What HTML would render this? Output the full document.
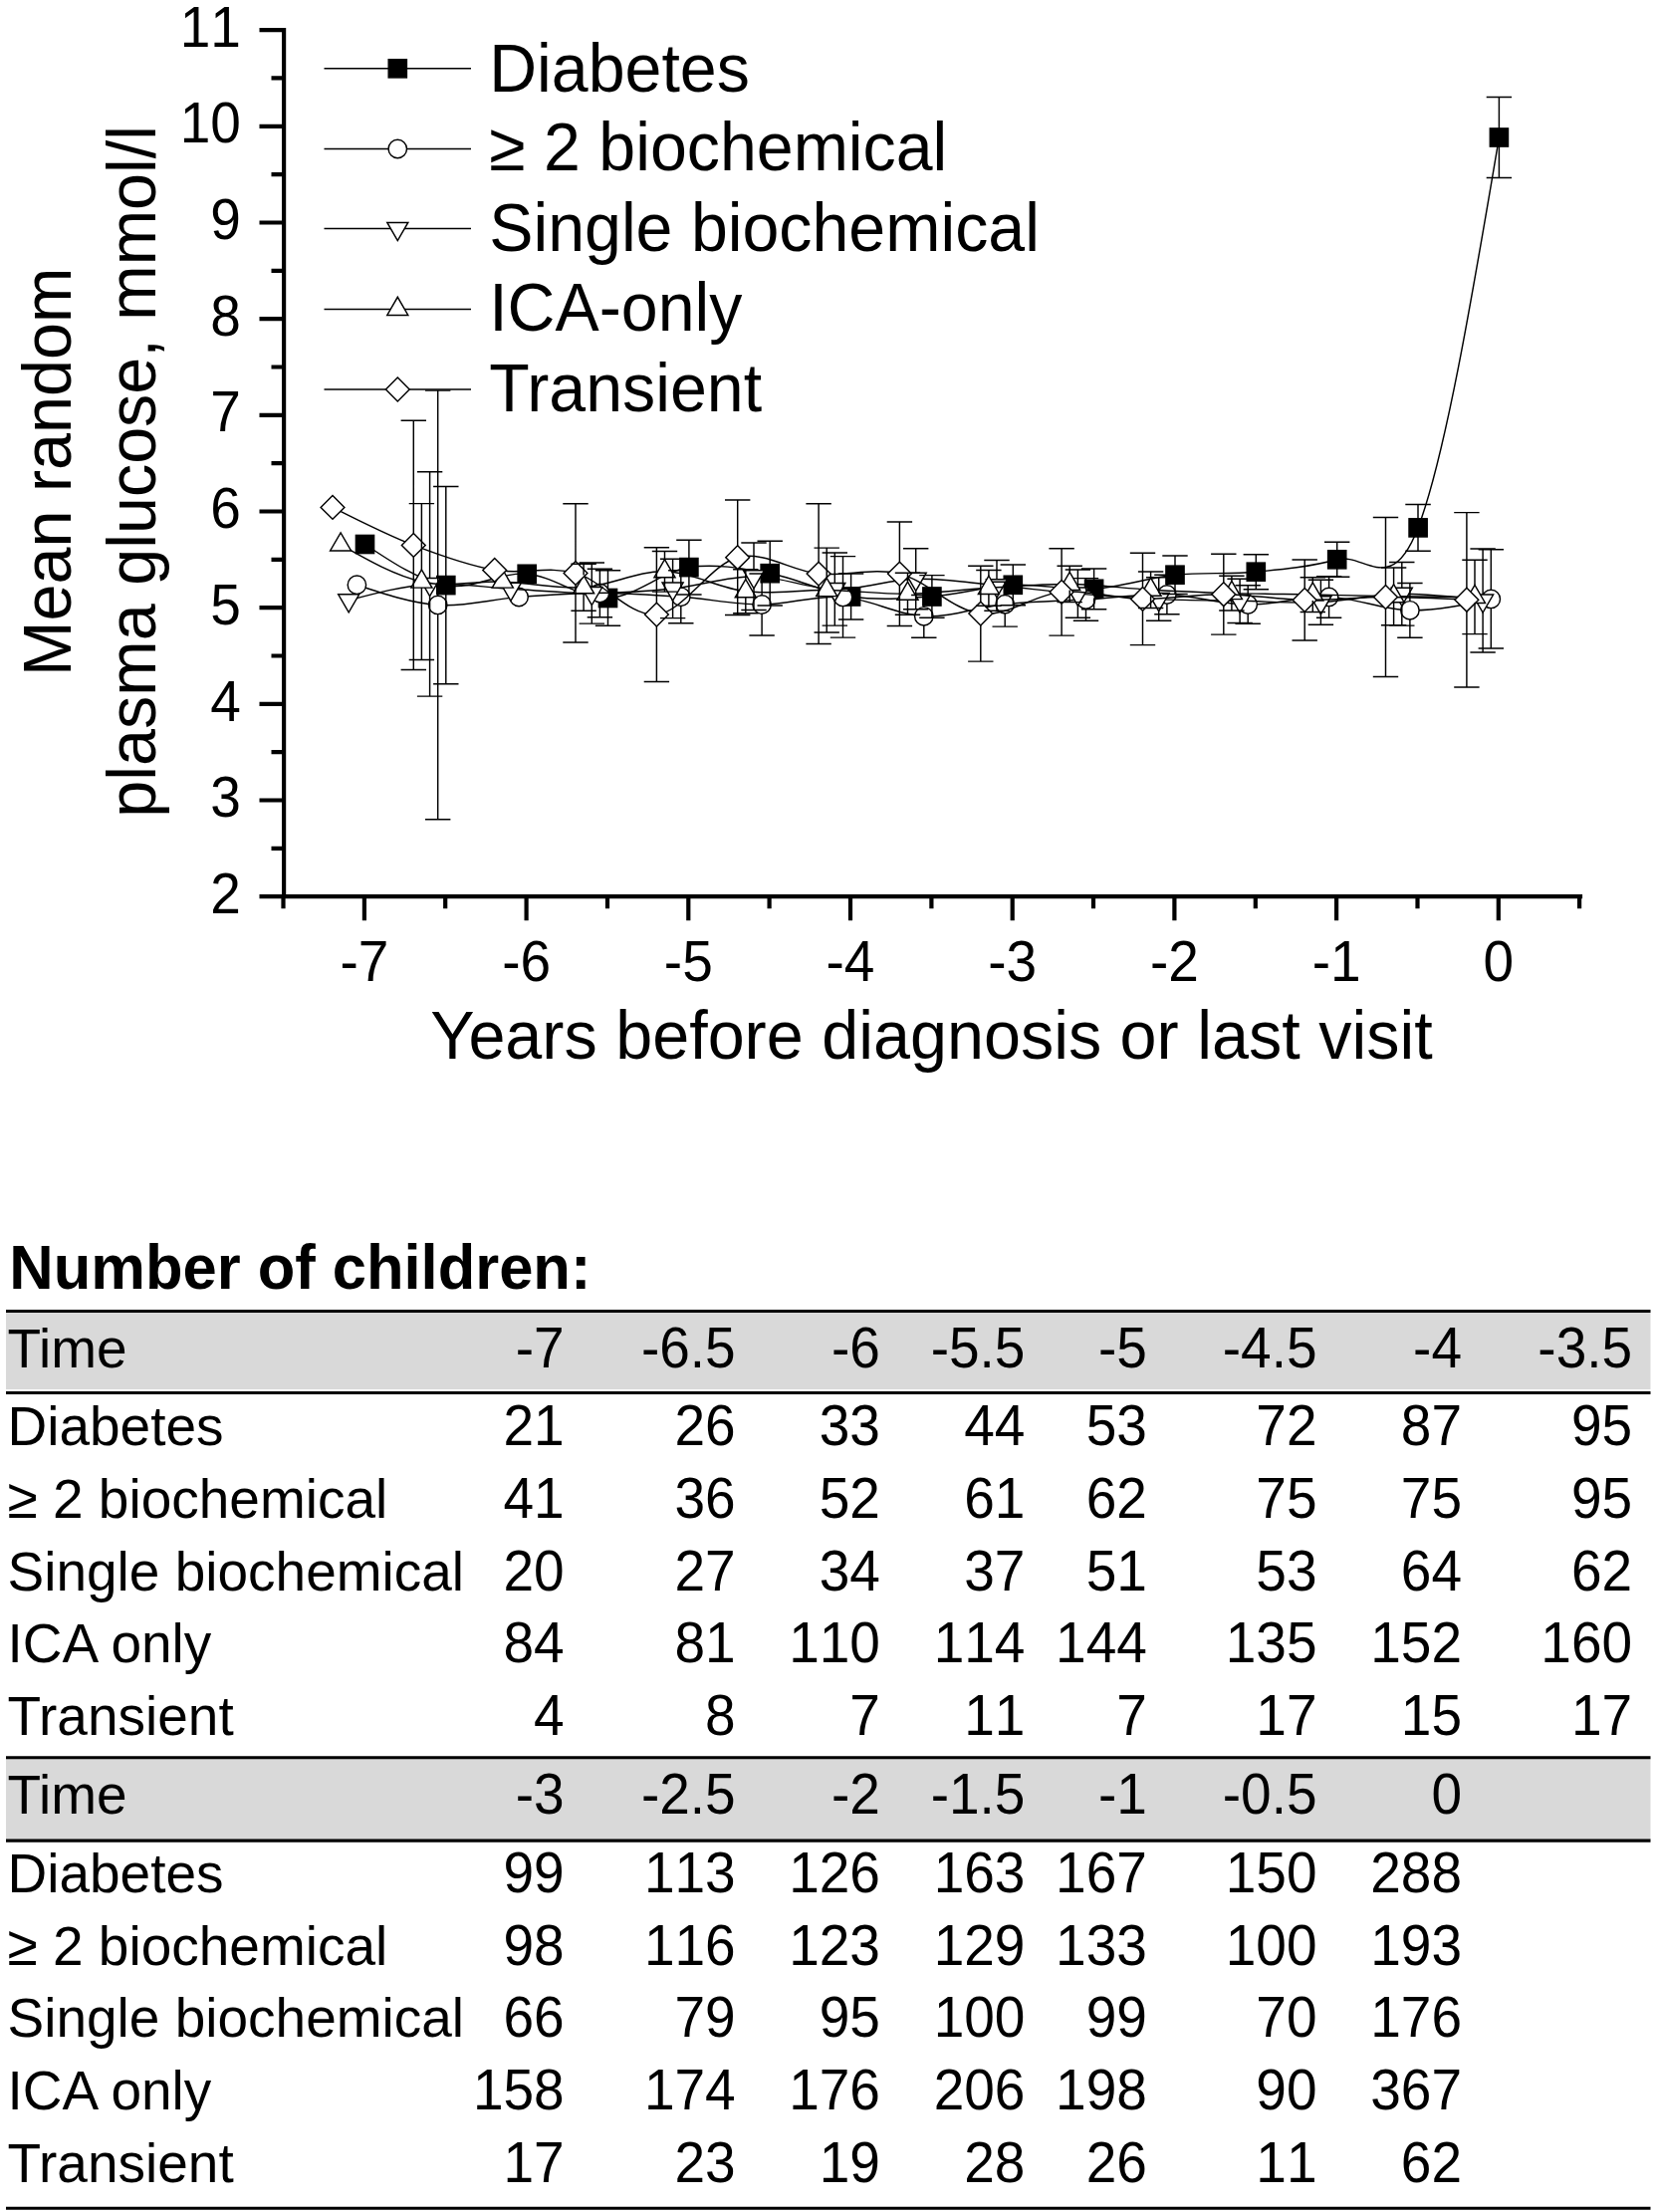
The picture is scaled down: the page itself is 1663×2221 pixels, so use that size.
<!DOCTYPE html>
<html lang="en"><head><meta charset="utf-8"><title>Mean random plasma glucose before diagnosis</title>
<style>
html,body{margin:0;padding:0;background:#fff}
body{width:1663px;height:2221px;overflow:hidden}
svg{display:block}
text{font-family:"Liberation Sans",Arial,Helvetica,sans-serif;fill:#000}
.ax{stroke:#000;stroke-width:4.2;fill:none;stroke-linecap:butt}
.ln{stroke:#000;stroke-width:1.45;fill:none;stroke-linejoin:round}
.mk{stroke:#000;stroke-width:1.45;fill:#fff;stroke-linejoin:miter}
.t50{font-size:55px}.t54{font-size:55px}.t66{font-size:66.3px}.t67{font-size:66.5px}
.r{text-anchor:end}.m{text-anchor:middle}.nk{font-kerning:none}
</style></head><body>
<svg width="1663" height="2221" viewBox="0 0 1663 2221">
<rect width="1663" height="2221" fill="#fff"/>
<g id="series-D">
<path class="ln" d="M366.5,546.5C393.6,564.6 420.7,582.6 447.8,587.6C475,592.6 502.1,574.2 529.2,576.3C556.3,578.5 583.4,601.6 610.5,600.5C637.7,599.4 664.8,573.7 691.9,569.6C719,565.5 746.1,570.8 773.2,575.7C800.4,580.6 827.5,595.1 854.6,599C881.7,602.9 908.8,600.9 935.9,599C963.1,597 990.2,588.6 1017.3,587.3C1044.4,586 1071.5,593 1098.6,591.3C1125.8,589.6 1152.9,580 1180,577.2C1207.1,574.4 1234.2,576.8 1261.3,574.2C1288.5,571.7 1315.6,569.2 1342.7,561.8C1369.8,554.4 1396.9,600.6 1424,529.9C1451.2,459.3 1478.3,298.6 1505.4,138"/>
<g class="mk"><rect x="357.4" y="537.4" width="18.2" height="18.2" fill="#000"/><rect x="438.7" y="578.5" width="18.2" height="18.2" fill="#000"/><rect x="520.1" y="567.2" width="18.2" height="18.2" fill="#000"/><rect x="601.4" y="591.4" width="18.2" height="18.2" fill="#000"/><rect x="682.8" y="560.5" width="18.2" height="18.2" fill="#000"/><rect x="764.1" y="566.6" width="18.2" height="18.2" fill="#000"/><rect x="845.5" y="589.9" width="18.2" height="18.2" fill="#000"/><rect x="926.8" y="589.9" width="18.2" height="18.2" fill="#000"/><rect x="1008.2" y="578.2" width="18.2" height="18.2" fill="#000"/><rect x="1089.5" y="582.2" width="18.2" height="18.2" fill="#000"/><rect x="1170.9" y="568.1" width="18.2" height="18.2" fill="#000"/><rect x="1252.2" y="565.1" width="18.2" height="18.2" fill="#000"/><rect x="1333.6" y="552.7" width="18.2" height="18.2" fill="#000"/><rect x="1415" y="520.8" width="18.2" height="18.2" fill="#000"/><rect x="1496.3" y="128.9" width="18.2" height="18.2" fill="#000"/></g>
</g>
<g id="series-C">
<path class="ln" d="M358.4,587.2C385.5,596.3 412.6,605.4 439.7,607.4C466.8,609.5 493.9,601.4 521.1,599.5C548.2,597.5 575.3,595.5 602.4,595.5C629.5,595.5 656.6,597.3 683.8,599.3C710.9,601.2 738,606.9 765.1,607C792.2,607 819.3,597.4 846.5,599.4C873.6,601.3 900.7,617.6 927.8,618.8C954.9,620 982,609.5 1009.2,606.7C1036.3,603.9 1063.4,603.6 1090.5,602C1117.6,600.4 1144.7,596.2 1171.9,597C1199,597.9 1226.1,606.7 1253.2,607.1C1280.3,607.4 1307.4,598.4 1334.6,599.4C1361.7,600.3 1388.8,612.5 1415.9,612.8C1443,613.2 1470.1,607.3 1497.3,601.4"/>
<g class="mk"><circle cx="358.4" cy="587.2" r="9.2"/><circle cx="439.7" cy="607.4" r="9.2"/><circle cx="521.1" cy="599.5" r="9.2"/><circle cx="602.4" cy="595.5" r="9.2"/><circle cx="683.8" cy="599.3" r="9.2"/><circle cx="765.1" cy="607" r="9.2"/><circle cx="846.5" cy="599.4" r="9.2"/><circle cx="927.8" cy="618.8" r="9.2"/><circle cx="1009.2" cy="606.7" r="9.2"/><circle cx="1090.5" cy="602" r="9.2"/><circle cx="1171.9" cy="597" r="9.2"/><circle cx="1253.2" cy="607.1" r="9.2"/><circle cx="1334.6" cy="599.4" r="9.2"/><circle cx="1415.9" cy="612.8" r="9.2"/><circle cx="1497.3" cy="601.4" r="9.2"/></g>
</g>
<g id="series-V">
<path class="ln" d="M350.2,602.8C377.3,595.6 404.5,588.4 431.6,586.5C458.7,584.5 485.8,589.8 512.9,591.3C540,592.8 567.2,595.6 594.3,595.5C621.4,595.5 648.5,593.8 675.6,591C702.7,588.2 729.9,578.7 757,578.7C784.1,578.8 811.2,591.1 838.3,591.6C865.4,592 892.6,581.9 919.7,581.3C946.8,580.6 973.9,585.3 1001,587.8C1028.1,590.3 1055.3,593.8 1082.4,596.1C1109.5,598.4 1136.6,600.4 1163.7,601.6C1190.8,602.8 1218,602.8 1245.1,603.3C1272.2,603.8 1299.3,605.9 1326.4,604.7C1353.5,603.6 1380.7,596.6 1407.8,596.3C1434.9,596 1462,599.5 1489.1,603"/>
<g class="mk"><polygon points="339.7,596.8 360.7,596.8 350.2,614.9"/><polygon points="421.1,580.4 442.1,580.4 431.6,598.6"/><polygon points="502.4,585.2 523.4,585.2 512.9,603.4"/><polygon points="583.8,589.5 604.8,589.5 594.3,607.6"/><polygon points="665.1,584.9 686.1,584.9 675.6,603.1"/><polygon points="746.5,572.7 767.5,572.7 757,590.8"/><polygon points="827.8,585.5 848.8,585.5 838.3,603.7"/><polygon points="909.2,575.2 930.2,575.2 919.7,593.4"/><polygon points="990.5,581.7 1011.5,581.7 1001,599.9"/><polygon points="1071.9,590 1092.9,590 1082.4,608.2"/><polygon points="1153.2,595.5 1174.2,595.5 1163.7,613.7"/><polygon points="1234.6,597.3 1255.6,597.3 1245.1,615.4"/><polygon points="1315.9,598.7 1336.9,598.7 1326.4,616.8"/><polygon points="1397.3,590.2 1418.3,590.2 1407.8,608.4"/><polygon points="1478.6,597 1499.6,597 1489.1,615.1"/></g>
</g>
<g id="series-A">
<path class="ln" d="M342.1,547C369.2,562.4 396.3,577.9 423.4,584C450.6,590.2 477.7,583.1 504.8,584C531.9,585 559,591.4 586.1,589.7C613.3,588 640.4,573.1 667.5,573.7C694.6,574.4 721.7,590.6 748.8,593.8C776,596.9 803.1,592.1 830.2,592.5C857.3,592.9 884.4,596.6 911.5,596.3C938.7,595.9 965.8,591.9 992.9,590.3C1020,588.7 1047.1,586.1 1074.2,586.5C1101.4,586.8 1128.5,590.7 1155.6,592.2C1182.7,593.8 1209.8,594.8 1236.9,595.6C1264.1,596.4 1291.2,596.5 1318.3,597C1345.4,597.6 1372.5,598.4 1399.6,598.8C1426.8,599.2 1453.9,599.3 1481,599.5"/>
<g class="mk"><polygon points="331.6,553 352.6,553 342.1,534.9"/><polygon points="412.9,590.1 433.9,590.1 423.4,571.9"/><polygon points="494.3,590.1 515.3,590.1 504.8,571.9"/><polygon points="575.6,595.8 596.6,595.8 586.1,577.6"/><polygon points="657,579.8 678,579.8 667.5,561.6"/><polygon points="738.3,599.8 759.3,599.8 748.8,581.7"/><polygon points="819.7,598.6 840.7,598.6 830.2,580.4"/><polygon points="901,602.3 922,602.3 911.5,584.2"/><polygon points="982.4,596.4 1003.4,596.4 992.9,578.2"/><polygon points="1063.7,592.5 1084.7,592.5 1074.2,574.4"/><polygon points="1145.1,598.3 1166.1,598.3 1155.6,580.1"/><polygon points="1226.4,601.6 1247.4,601.6 1236.9,583.5"/><polygon points="1307.8,603.1 1328.8,603.1 1318.3,584.9"/><polygon points="1389.1,604.8 1410.1,604.8 1399.6,586.7"/><polygon points="1470.5,605.5 1491.5,605.5 1481,587.4"/></g>
</g>
<g id="series-T">
<path class="ln" d="M334,509.4C361.1,523.1 388.2,536.9 415.3,547.4C442.4,557.8 469.5,567.7 496.7,572.4C523.8,577.1 550.9,567.9 578,575.4C605.1,582.8 632.2,619.7 659.4,617.1C686.5,614.5 713.6,566.5 740.7,559.7C767.8,552.9 794.9,573.4 822.1,576.1C849.2,578.9 876.3,569.5 903.4,576.1C930.5,582.8 957.6,613.1 984.8,616.1C1011.9,619.2 1039,596.9 1066.1,594.4C1093.2,592 1120.3,601 1147.5,601.4C1174.6,601.7 1201.7,596.5 1228.8,596.7C1255.9,596.8 1283,602 1310.2,602.4C1337.3,602.9 1364.4,599.5 1391.5,599.5C1418.6,599.4 1445.7,600.8 1472.9,602.2"/>
<g class="mk"><polygon points="322.1,509.4 334,497.5 345.9,509.4 334,521.3"/><polygon points="403.4,547.4 415.3,535.5 427.2,547.4 415.3,559.3"/><polygon points="484.8,572.4 496.7,560.5 508.6,572.4 496.7,584.3"/><polygon points="566.1,575.4 578,563.5 589.9,575.4 578,587.3"/><polygon points="647.5,617.1 659.4,605.2 671.3,617.1 659.4,629"/><polygon points="728.8,559.7 740.7,547.8 752.6,559.7 740.7,571.6"/><polygon points="810.2,576.1 822.1,564.2 834,576.1 822.1,588"/><polygon points="891.5,576.1 903.4,564.2 915.3,576.1 903.4,588"/><polygon points="972.9,616.1 984.8,604.2 996.7,616.1 984.8,628"/><polygon points="1054.2,594.4 1066.1,582.5 1078,594.4 1066.1,606.3"/><polygon points="1135.6,601.4 1147.5,589.5 1159.4,601.4 1147.5,613.3"/><polygon points="1216.9,596.7 1228.8,584.8 1240.7,596.7 1228.8,608.6"/><polygon points="1298.3,602.4 1310.2,590.5 1322.1,602.4 1310.2,614.3"/><polygon points="1379.6,599.5 1391.5,587.6 1403.4,599.5 1391.5,611.4"/><polygon points="1461,602.2 1472.9,590.3 1484.8,602.2 1472.9,614.1"/></g>
</g>
<path class="ln" d="M447.8,578.5V488.4M435.1,488.4H460.5M447.8,596.7V686.8M435.1,686.8H460.5M610.5,591.4V572.7M597.8,572.7H623.2M610.5,609.6V628.3M597.8,628.3H623.2M691.9,560.5V542.2M679.2,542.2H704.6M691.9,578.7V596.9M679.2,596.9H704.6M773.2,566.6V543.3M760.5,543.3H785.9M773.2,584.8V608M760.5,608H785.9M854.6,589.9V576M841.9,576H867.3M854.6,608.1V622M841.9,622H867.3M935.9,589.9V577.6M923.2,577.6H948.6M935.9,608.1V620.3M923.2,620.3H948.6M1017.3,578.2V566.9M1004.6,566.9H1030M1017.3,596.4V607.7M1004.6,607.7H1030M1098.6,582.2V570.9M1085.9,570.9H1111.3M1098.6,600.4V611.7M1085.9,611.7H1111.3M1180,568.1V557.9M1167.3,557.9H1192.7M1180,586.3V596.5M1167.3,596.5H1192.7M1261.3,565.1V556.7M1248.6,556.7H1274M1261.3,583.3V591.7M1248.6,591.7H1274M1342.7,552.7V544.3M1330,544.3H1355.4M1342.7,570.9V579.3M1330,579.3H1355.4M1424,520.8V506.5M1411.3,506.5H1436.8M1424,539V553.3M1411.3,553.3H1436.8M1505.4,128.9V97.5M1492.7,97.5H1518.1M1505.4,147.1V178.4M1492.7,178.4H1518.1M439.7,598.2V392.1M427,392.1H452.4M439.7,616.6V822.8M427,822.8H452.4M602.4,586.3V571.3M589.7,571.3H615.1M602.4,604.7V619.7M589.7,619.7H615.1M683.8,590.1V572.8M671.1,572.8H696.5M683.8,608.5V625.7M671.1,625.7H696.5M765.1,597.8V576M752.4,576H777.8M765.1,616.2V638M752.4,638H777.8M846.5,590.2V558.6M833.8,558.6H859.2M846.5,608.6V640.1M833.8,640.1H859.2M927.8,609.6V597.4M915.1,597.4H940.5M927.8,628V640.2M915.1,640.2H940.5M1009.2,597.5V584.2M996.5,584.2H1021.9M1009.2,615.9V629.1M996.5,629.1H1021.9M1090.5,592.8V580.6M1077.8,580.6H1103.2M1090.5,611.2V623.3M1077.8,623.3H1103.2M1171.9,587.8V577.3M1159.2,577.3H1184.6M1171.9,606.2V616.8M1159.2,616.8H1184.6M1253.2,597.9V587.8M1240.5,587.8H1265.9M1253.2,616.3V626.3M1240.5,626.3H1265.9M1334.6,590.2V578.6M1321.9,578.6H1347.3M1334.6,608.6V620.2M1321.9,620.2H1347.3M1415.9,603.6V585.5M1403.2,585.5H1428.6M1415.9,622V640.2M1403.2,640.2H1428.6M1497.3,592.2V551.8M1484.6,551.8H1510M1497.3,610.6V651M1484.6,651H1510M431.6,580.4V473.8M418.9,473.8H444.3M431.6,598.6V699.1M418.9,699.1H444.3M594.3,589.5V564.9M581.6,564.9H607M594.3,607.6V626.1M581.6,626.1H607M675.6,584.9V561.3M662.9,561.3H688.3M675.6,603.1V620.6M662.9,620.6H688.3M757,572.7V545M744.3,545H769.7M757,590.8V612.5M744.3,612.5H769.7M838.3,585.5V555M825.6,555H851M838.3,603.7V628.1M825.6,628.1H851M919.7,575.2V550.8M907,550.8H932.4M919.7,593.4V611.7M907,611.7H932.4M1001,581.7V562.4M988.3,562.4H1013.7M1001,599.9V613.2M988.3,613.2H1013.7M1082.4,590V572M1069.7,572H1095.1M1082.4,608.2V620.2M1069.7,620.2H1095.1M1163.7,595.5V579.8M1151,579.8H1176.4M1163.7,613.7V623.3M1151,623.3H1176.4M1245.1,597.3V581.2M1232.4,581.2H1257.8M1245.1,615.4V625.5M1232.4,625.5H1257.8M1326.4,598.7V582.2M1313.7,582.2H1339.1M1326.4,616.8V627.3M1313.7,627.3H1339.1M1407.8,590.2V564.5M1395.1,564.5H1420.5M1407.8,608.4V628.1M1395.1,628.1H1420.5M1489.1,597V551M1476.4,551H1501.8M1489.1,615.1V655M1476.4,655H1501.8M423.4,571.9V505.6M410.7,505.6H436.1M423.4,590.1V662.5M410.7,662.5H436.1M586.1,577.6V566.2M573.4,566.2H598.8M586.1,595.8V613.2M573.4,613.2H598.8M667.5,561.6V553.4M654.8,553.4H680.2M667.5,579.8V594.1M654.8,594.1H680.2M748.8,581.7V571.8M736.1,571.8H761.5M748.8,599.8V615.7M736.1,615.7H761.5M830.2,580.4V550.1M817.5,550.1H842.9M830.2,598.6V634.9M817.5,634.9H842.9M911.5,584.2V575.3M898.8,575.3H924.2M911.5,602.3V617.3M898.8,617.3H924.2M992.9,578.2V572.4M980.2,572.4H1005.6M992.9,596.4V608.2M980.2,608.2H1005.6M1074.2,574.4V568.3M1061.5,568.3H1086.9M1074.2,592.5V604.6M1061.5,604.6H1086.9M1155.6,580.1V573.9M1142.9,573.9H1168.3M1155.6,598.3V610.5M1142.9,610.5H1168.3M1236.9,583.5V578.3M1224.2,578.3H1249.6M1236.9,601.6V612.9M1224.2,612.9H1249.6M1318.3,584.9V579.7M1305.6,579.7H1331M1318.3,603.1V614.4M1305.6,614.4H1331M1399.6,586.7V569.9M1386.9,569.9H1412.3M1399.6,604.8V627.7M1386.9,627.7H1412.3M1481,587.4V562.3M1468.3,562.3H1493.7M1481,605.5V636.6M1468.3,636.6H1493.7M415.3,535.5V422.2M402.6,422.2H428M415.3,559.3V672.5M402.6,672.5H428M578,563.5V505.8M565.3,505.8H590.7M578,587.3V644.9M565.3,644.9H590.7M659.4,605.2V549.7M646.7,549.7H672.1M659.4,629V684.5M646.7,684.5H672.1M740.7,547.8V501.9M728,501.9H753.4M740.7,571.6V617.5M728,617.5H753.4M822.1,564.2V505.8M809.4,505.8H834.8M822.1,588V646.4M809.4,646.4H834.8M903.4,564.2V523.9M890.7,523.9H916.1M903.4,588V628.4M890.7,628.4H916.1M984.8,604.2V568.2M972.1,568.2H997.5M984.8,628V664.1M972.1,664.1H997.5M1066.1,582.5V550.8M1053.4,550.8H1078.8M1066.1,606.3V638.1M1053.4,638.1H1078.8M1147.5,589.5V555.2M1134.8,555.2H1160.2M1147.5,613.3V647.6M1134.8,647.6H1160.2M1228.8,584.8V556.2M1216.1,556.2H1241.5M1228.8,608.6V637.1M1216.1,637.1H1241.5M1310.2,590.5V562M1297.5,562H1322.9M1310.2,614.3V642.9M1297.5,642.9H1322.9M1391.5,587.6V519.5M1378.8,519.5H1404.2M1391.5,611.4V679.4M1378.8,679.4H1404.2M1472.9,590.3V514.6M1460.2,514.6H1485.6M1472.9,614.1V689.9M1460.2,689.9H1485.6"/>
<path class="ax" d="M285.1,28V902.3M260.5,900.2H1589.1M260.5,30.1H285.1M272.5,78.4H285.1M260.5,126.8H285.1M272.5,175.1H285.1M260.5,223.5H285.1M272.5,271.8H285.1M260.5,320.1H285.1M272.5,368.5H285.1M260.5,416.8H285.1M272.5,465.2H285.1M260.5,513.5H285.1M272.5,561.8H285.1M260.5,610.2H285.1M272.5,658.5H285.1M260.5,706.9H285.1M272.5,755.2H285.1M260.5,803.5H285.1M272.5,851.9H285.1M260.5,900.2H285.1M284.5,900.2V912.2M365.9,900.2V924.2M447.2,900.2V912.2M528.6,900.2V924.2M610,900.2V912.2M691.3,900.2V924.2M772.6,900.2V912.2M854,900.2V924.2M935.4,900.2V912.2M1016.7,900.2V924.2M1098,900.2V912.2M1179.4,900.2V924.2M1260.8,900.2V912.2M1342.1,900.2V924.2M1423.5,900.2V912.2M1504.8,900.2V924.2M1586.1,900.2V912.2"/>
<g class="t50 r nk">
<text transform="translate(241.8 916.8) scale(1 1.05)">2</text>
<text transform="translate(241.8 820.1) scale(1 1.05)">3</text>
<text transform="translate(241.8 723.5) scale(1 1.05)">4</text>
<text transform="translate(241.8 626.8) scale(1 1.05)">5</text>
<text transform="translate(241.8 530.1) scale(1 1.05)">6</text>
<text transform="translate(241.8 433.4) scale(1 1.05)">7</text>
<text transform="translate(241.8 336.7) scale(1 1.05)">8</text>
<text transform="translate(241.8 240.1) scale(1 1.05)">9</text>
<text transform="translate(241.8 143.4) scale(1 1.05)">10</text>
<text transform="translate(241.8 46.7) scale(1 1.05)">11</text>
</g>
<g class="t50 m nk">
<text transform="translate(365.9 985.3) scale(1 1.05)">-7</text>
<text transform="translate(528.6 985.3) scale(1 1.05)">-6</text>
<text transform="translate(691.3 985.3) scale(1 1.05)">-5</text>
<text transform="translate(854 985.3) scale(1 1.05)">-4</text>
<text transform="translate(1016.7 985.3) scale(1 1.05)">-3</text>
<text transform="translate(1179.4 985.3) scale(1 1.05)">-2</text>
<text transform="translate(1342.1 985.3) scale(1 1.05)">-1</text>
<text transform="translate(1504.8 985.3) scale(1 1.05)">0</text>
</g>
<text transform="translate(935.4 1062.7) scale(1 1.025)" class="t67 m" id="xlabel">Years before diagnosis or last visit</text>
<text transform="translate(70.7 473.8) rotate(-90) scale(1 1.025)" class="t67 m" id="ylabel1">Mean random</text>
<text transform="translate(155.6 473.3) rotate(-90) scale(1 1.025)" class="t67 m" id="ylabel2">plasma glucose, mmol/l</text>
<g id="legend">
<path class="ln" d="M325.5,68.8H473"/>
<g class="mk"><rect x="390.2" y="59.7" width="18.2" height="18.2" fill="#000"/></g>
<text transform="translate(491.2 91.7) scale(1 1.025)" class="t66">Diabetes</text>
<path class="ln" d="M325.5,149.5H473"/>
<g class="mk"><circle cx="399.3" cy="149.5" r="9.2"/></g>
<text transform="translate(491.2 171.4) scale(1 1.025)" class="t66">≥ 2 biochemical</text>
<path class="ln" d="M325.5,229.5H473"/>
<g class="mk"><polygon points="388.8,223.4 409.8,223.4 399.3,241.6"/></g>
<text transform="translate(491.2 251.9) scale(1 1.025)" class="t66">Single biochemical</text>
<path class="ln" d="M325.5,310.4H473"/>
<g class="mk"><polygon points="388.8,316.4 409.8,316.4 399.3,298.3"/></g>
<text transform="translate(491.2 332.3) scale(1 1.025)" class="t66">ICA-only</text>
<path class="ln" d="M325.5,391H473"/>
<g class="mk"><polygon points="387.4,391 399.3,379.1 411.2,391 399.3,402.9"/></g>
<text transform="translate(491.2 413.1) scale(1 1.025)" class="t66">Transient</text>
</g>
<g id="table">
<text transform="translate(9.3 1294.2) scale(1 1.03)" font-size="61.5" font-weight="bold">Number of children:</text>
<rect x="6" y="1317.5" width="1651.5" height="77.5" fill="#d9d9d9"/>
<rect x="6" y="1766" width="1651.5" height="81" fill="#d9d9d9"/>
<path d="M6,1316.5H1657.5" stroke="#000" stroke-width="2.8" fill="none"/>
<path d="M6,1398.6H1657.5" stroke="#000" stroke-width="3.0" fill="none"/>
<path d="M6,1764.8H1657.5" stroke="#000" stroke-width="3.1" fill="none"/>
<path d="M6,1848.1H1657.5" stroke="#000" stroke-width="3.1" fill="none"/>
<path d="M6,2217.2H1657.5" stroke="#000" stroke-width="3.0" fill="none"/>
<g class="t54">
<text transform="translate(7.5 1372.7) scale(1 1.025)">Time</text>
<g class="r nk"><text transform="translate(566.7 1372.7) scale(1 1.05)">-7</text><text transform="translate(738.7 1372.7) scale(1 1.05)">-6.5</text><text transform="translate(883.9 1372.7) scale(1 1.05)">-6</text><text transform="translate(1029.4 1372.7) scale(1 1.05)">-5.5</text><text transform="translate(1151.8 1372.7) scale(1 1.05)">-5</text><text transform="translate(1322.5 1372.7) scale(1 1.05)">-4.5</text><text transform="translate(1468 1372.7) scale(1 1.05)">-4</text><text transform="translate(1639.1 1372.7) scale(1 1.05)">-3.5</text></g>
<text transform="translate(7.5 1451.2) scale(1 1.025)">Diabetes</text>
<g class="r nk"><text transform="translate(566.7 1451.2) scale(1 1.05)">21</text><text transform="translate(738.7 1451.2) scale(1 1.05)">26</text><text transform="translate(883.9 1451.2) scale(1 1.05)">33</text><text transform="translate(1029.4 1451.2) scale(1 1.05)">44</text><text transform="translate(1151.8 1451.2) scale(1 1.05)">53</text><text transform="translate(1322.5 1451.2) scale(1 1.05)">72</text><text transform="translate(1468 1451.2) scale(1 1.05)">87</text><text transform="translate(1639.1 1451.2) scale(1 1.05)">95</text></g>
<text transform="translate(7.5 1523.9) scale(1 1.025)">≥ 2 biochemical</text>
<g class="r nk"><text transform="translate(566.7 1523.9) scale(1 1.05)">41</text><text transform="translate(738.7 1523.9) scale(1 1.05)">36</text><text transform="translate(883.9 1523.9) scale(1 1.05)">52</text><text transform="translate(1029.4 1523.9) scale(1 1.05)">61</text><text transform="translate(1151.8 1523.9) scale(1 1.05)">62</text><text transform="translate(1322.5 1523.9) scale(1 1.05)">75</text><text transform="translate(1468 1523.9) scale(1 1.05)">75</text><text transform="translate(1639.1 1523.9) scale(1 1.05)">95</text></g>
<text transform="translate(7.5 1596.5) scale(1 1.025)">Single biochemical</text>
<g class="r nk"><text transform="translate(566.7 1596.5) scale(1 1.05)">20</text><text transform="translate(738.7 1596.5) scale(1 1.05)">27</text><text transform="translate(883.9 1596.5) scale(1 1.05)">34</text><text transform="translate(1029.4 1596.5) scale(1 1.05)">37</text><text transform="translate(1151.8 1596.5) scale(1 1.05)">51</text><text transform="translate(1322.5 1596.5) scale(1 1.05)">53</text><text transform="translate(1468 1596.5) scale(1 1.05)">64</text><text transform="translate(1639.1 1596.5) scale(1 1.05)">62</text></g>
<text transform="translate(7.5 1669.1) scale(1 1.025)">ICA only</text>
<g class="r nk"><text transform="translate(566.7 1669.1) scale(1 1.05)">84</text><text transform="translate(738.7 1669.1) scale(1 1.05)">81</text><text transform="translate(883.9 1669.1) scale(1 1.05)">110</text><text transform="translate(1029.4 1669.1) scale(1 1.05)">114</text><text transform="translate(1151.8 1669.1) scale(1 1.05)">144</text><text transform="translate(1322.5 1669.1) scale(1 1.05)">135</text><text transform="translate(1468 1669.1) scale(1 1.05)">152</text><text transform="translate(1639.1 1669.1) scale(1 1.05)">160</text></g>
<text transform="translate(7.5 1741.9) scale(1 1.025)">Transient</text>
<g class="r nk"><text transform="translate(566.7 1741.9) scale(1 1.05)">4</text><text transform="translate(738.7 1741.9) scale(1 1.05)">8</text><text transform="translate(883.9 1741.9) scale(1 1.05)">7</text><text transform="translate(1029.4 1741.9) scale(1 1.05)">11</text><text transform="translate(1151.8 1741.9) scale(1 1.05)">7</text><text transform="translate(1322.5 1741.9) scale(1 1.05)">17</text><text transform="translate(1468 1741.9) scale(1 1.05)">15</text><text transform="translate(1639.1 1741.9) scale(1 1.05)">17</text></g>
<text transform="translate(7.5 1821.4) scale(1 1.025)">Time</text>
<g class="r nk"><text transform="translate(566.7 1821.4) scale(1 1.05)">-3</text><text transform="translate(738.7 1821.4) scale(1 1.05)">-2.5</text><text transform="translate(883.9 1821.4) scale(1 1.05)">-2</text><text transform="translate(1029.4 1821.4) scale(1 1.05)">-1.5</text><text transform="translate(1151.8 1821.4) scale(1 1.05)">-1</text><text transform="translate(1322.5 1821.4) scale(1 1.05)">-0.5</text><text transform="translate(1468 1821.4) scale(1 1.05)">0</text></g>
<text transform="translate(7.5 1899.9) scale(1 1.025)">Diabetes</text>
<g class="r nk"><text transform="translate(566.7 1899.9) scale(1 1.05)">99</text><text transform="translate(738.7 1899.9) scale(1 1.05)">113</text><text transform="translate(883.9 1899.9) scale(1 1.05)">126</text><text transform="translate(1029.4 1899.9) scale(1 1.05)">163</text><text transform="translate(1151.8 1899.9) scale(1 1.05)">167</text><text transform="translate(1322.5 1899.9) scale(1 1.05)">150</text><text transform="translate(1468 1899.9) scale(1 1.05)">288</text></g>
<text transform="translate(7.5 1972.5) scale(1 1.025)">≥ 2 biochemical</text>
<g class="r nk"><text transform="translate(566.7 1972.5) scale(1 1.05)">98</text><text transform="translate(738.7 1972.5) scale(1 1.05)">116</text><text transform="translate(883.9 1972.5) scale(1 1.05)">123</text><text transform="translate(1029.4 1972.5) scale(1 1.05)">129</text><text transform="translate(1151.8 1972.5) scale(1 1.05)">133</text><text transform="translate(1322.5 1972.5) scale(1 1.05)">100</text><text transform="translate(1468 1972.5) scale(1 1.05)">193</text></g>
<text transform="translate(7.5 2045.2) scale(1 1.025)">Single biochemical</text>
<g class="r nk"><text transform="translate(566.7 2045.2) scale(1 1.05)">66</text><text transform="translate(738.7 2045.2) scale(1 1.05)">79</text><text transform="translate(883.9 2045.2) scale(1 1.05)">95</text><text transform="translate(1029.4 2045.2) scale(1 1.05)">100</text><text transform="translate(1151.8 2045.2) scale(1 1.05)">99</text><text transform="translate(1322.5 2045.2) scale(1 1.05)">70</text><text transform="translate(1468 2045.2) scale(1 1.05)">176</text></g>
<text transform="translate(7.5 2117.8) scale(1 1.025)">ICA only</text>
<g class="r nk"><text transform="translate(566.7 2117.8) scale(1 1.05)">158</text><text transform="translate(738.7 2117.8) scale(1 1.05)">174</text><text transform="translate(883.9 2117.8) scale(1 1.05)">176</text><text transform="translate(1029.4 2117.8) scale(1 1.05)">206</text><text transform="translate(1151.8 2117.8) scale(1 1.05)">198</text><text transform="translate(1322.5 2117.8) scale(1 1.05)">90</text><text transform="translate(1468 2117.8) scale(1 1.05)">367</text></g>
<text transform="translate(7.5 2190.5) scale(1 1.025)">Transient</text>
<g class="r nk"><text transform="translate(566.7 2190.5) scale(1 1.05)">17</text><text transform="translate(738.7 2190.5) scale(1 1.05)">23</text><text transform="translate(883.9 2190.5) scale(1 1.05)">19</text><text transform="translate(1029.4 2190.5) scale(1 1.05)">28</text><text transform="translate(1151.8 2190.5) scale(1 1.05)">26</text><text transform="translate(1322.5 2190.5) scale(1 1.05)">11</text><text transform="translate(1468 2190.5) scale(1 1.05)">62</text></g>
</g>
</g>
</svg>
</body></html>
